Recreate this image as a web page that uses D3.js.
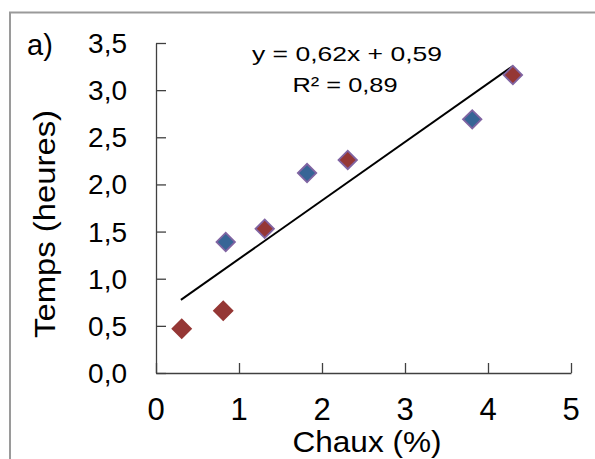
<!DOCTYPE html>
<html><head><meta charset="utf-8">
<script src="https://cdn.jsdelivr.net/npm/d3@7"></script>
<style>body{margin:0;background:#fff}svg{display:block;font-family:Arial,"Liberation Sans",sans-serif}</style>
</head><body>
<script>
const chauxX = [0.31, 0.81, 0.84, 1.31, 1.82, 2.31, 3.81, 4.30];
const tempsY = [0.47, 0.66, 1.39, 1.53, 2.12, 2.26, 2.69, 3.16];
const fillType = ["red", "red", "blue", "red", "blue", "red", "blue", "red"];
const strokeType = ["red", "red", "purple", "purple", "purple", "purple", "purple", "purple"];
const xTicks = [0, 1, 2, 3, 4, 5];
const yTicks = [0, 0.5, 1, 1.5, 2, 2.5, 3, 3.5];
const slope = 0.62, intercept = 0.59;
const trendRange = [0.3, 4.3];
const colors = {red: "#953735", blue: "#376596", purple: "#8064A2"};

const W = 595, H = 459;
const svg = d3.select("body").append("svg").attr("width", W).attr("height", H);
svg.append("rect").attr("x", 10).attr("y", 12.5).attr("width", 700).attr("height", 600)
  .attr("fill", "#fff").attr("stroke", "#9a9a9a").attr("stroke-width", 2);

const x = d3.scaleLinear().domain([0, 5]).range([156, 571]);
const y = d3.scaleLinear().domain([0, 3.5]).range([373, 43]);
const fmt = d => d3.format(".1f")(d).replace(".", ",");

const xAxis = svg.append("g").attr("transform", `translate(0,${y(0)})`)
  .call(d3.axisTop(x).tickValues(xTicks).tickSize(10).tickSizeOuter(0).tickFormat(""));
const yAxis = svg.append("g").attr("transform", `translate(${x(0)},0)`)
  .call(d3.axisRight(y).tickValues(yTicks).tickSize(10).tickSizeOuter(0).tickFormat(""));
[xAxis, yAxis].forEach(g => { g.selectAll("path,line").attr("stroke", "#404040").attr("stroke-width", 1.3); });

svg.append("g").selectAll("text").data(xTicks).join("text")
  .attr("x", d => x(d)).attr("y", 420).attr("text-anchor", "middle")
  .attr("font-size", 31).attr("fill", "#000").text(d => d);
svg.append("g").selectAll("text").data(yTicks).join("text")
  .attr("x", 127).attr("y", d => y(d) + 10).attr("text-anchor", "end")
  .attr("font-size", 28).attr("fill", "#000").text(fmt);

svg.append("text").attr("x", 367).attr("y", 452).attr("text-anchor", "middle")
  .attr("font-size", 30).attr("textLength", 149).attr("lengthAdjust", "spacingAndGlyphs")
  .text("Chaux (%)");
svg.append("text").attr("transform", "translate(55,224) rotate(-90)").attr("text-anchor", "middle")
  .attr("font-size", 30).attr("textLength", 228).attr("lengthAdjust", "spacingAndGlyphs")
  .text("Temps (heures)");
svg.append("text").attr("x", 27).attr("y", 55).attr("font-size", 29).text("a)");

svg.append("text").attr("x", 347).attr("y", 61).attr("text-anchor", "middle")
  .attr("font-size", 21).attr("textLength", 190).attr("lengthAdjust", "spacingAndGlyphs")
  .text("y = 0,62x + 0,59");
svg.append("text").attr("x", 345).attr("y", 92).attr("text-anchor", "middle")
  .attr("font-size", 21).attr("textLength", 105).attr("lengthAdjust", "spacingAndGlyphs")
  .text("R² = 0,89");

const line = d3.line().x(d => x(d)).y(d => y(slope * d + intercept));
svg.append("path").datum(trendRange).attr("d", line)
  .attr("fill", "none").attr("stroke", "#000").attr("stroke-width", 2);

svg.append("g").selectAll("path").data(chauxX).join("path")
  .attr("transform", (d, i) => `translate(${x(d)},${y(tempsY[i])}) rotate(45)`)
  .attr("d", d3.symbol().type(d3.symbolSquare).size(170))
  .attr("fill", (d, i) => colors[fillType[i]])
  .attr("stroke", (d, i) => colors[strokeType[i]]).attr("stroke-width", 1.8);
</script>
</body></html>
